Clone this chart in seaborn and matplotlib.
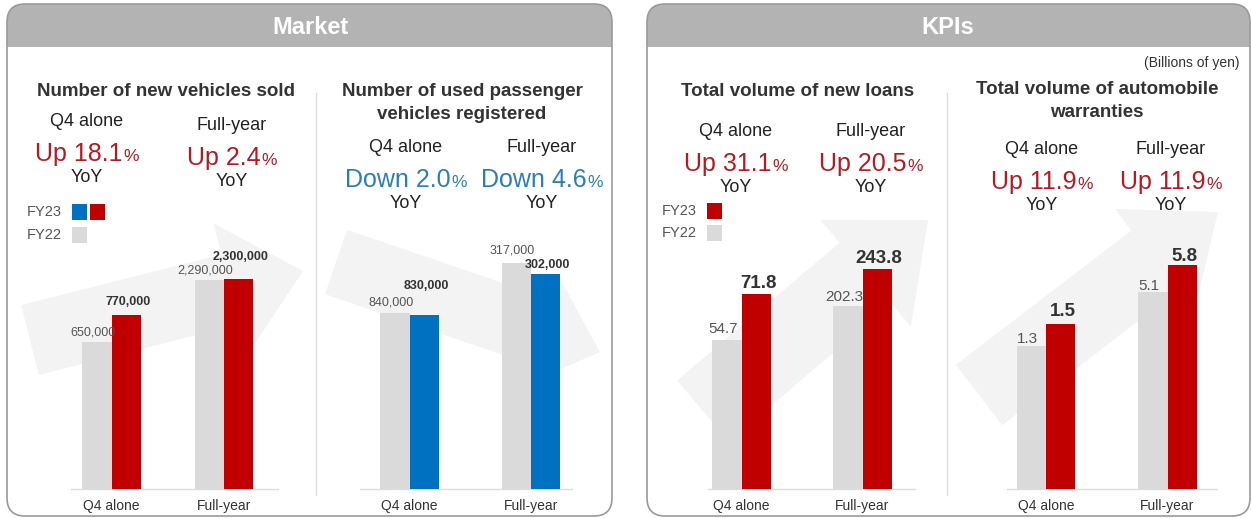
import numpy as np
import pandas as pd
import matplotlib
matplotlib.use("Agg")
import matplotlib.pyplot as plt
from matplotlib.patches import FancyBboxPatch, Rectangle, Polygon
import seaborn as sns

# ---------------------------------------------------------------- data
periods = ["Q4 alone", "Full-year"]
years = ["FY22", "FY23"]

new_vehicles_fy22 = [650000, 2290000]
new_vehicles_fy23 = [770000, 2300000]
new_vehicles_yoy = [18.1, 2.4]

used_vehicles_fy22 = [840000, 317000]
used_vehicles_fy23 = [830000, 302000]
used_vehicles_yoy = [-2.0, -4.6]

new_loans_fy22 = [54.7, 202.3]
new_loans_fy23 = [71.8, 243.8]
new_loans_yoy = [31.1, 20.5]

warranties_fy22 = [1.3, 5.1]
warranties_fy23 = [1.5, 5.8]
warranties_yoy = [11.9, 11.9]

section_titles = ["Market", "KPIs"]
panel_titles = [
    "Number of new vehicles sold",
    "Number of used passenger\nvehicles registered",
    "Total volume of new loans",
    "Total volume of automobile\nwarranties",
]
unit_note = "(Billions of yen)"

# ---------------------------------------------------------------- style
W, H = 1252, 518
GRAY_BAR = "#DADADA"
RED_BAR = "#C00000"
BLUE_BAR = "#0070C0"
RED_TXT = "#B51A22"
BLUE_TXT = "#2C7DBB"
DARK = "#333333"
MID = "#555555"
ARROW = "#F3F3F3"

sns.set_style("white")
plt.rcParams["font.family"] = ["Liberation Sans", "DejaVu Sans"]

fig = plt.figure(figsize=(W / 100, H / 100), dpi=100)
fig.patch.set_facecolor("white")

# pixel-space canvas for frames, headings and decoration
bg = fig.add_axes([0, 0, 1, 1])
bg.set_xlim(0, W)
bg.set_ylim(H, 0)
bg.axis("off")
renderer = fig.canvas.get_renderer()

# ---------------------------------------------------------------- frames
frames = [(7, 4, 605, 512, 310), (647, 4, 603, 512, 948)]
for (x0, y0, fw, fh, tx), name in zip(frames, section_titles):
    style = "round,pad=0,rounding_size=18"
    bg.add_patch(FancyBboxPatch((x0, y0), fw, fh, boxstyle=style,
                                facecolor="white", edgecolor="none", zorder=0))
    head = FancyBboxPatch((x0, y0), fw, fh, boxstyle=style,
                          facecolor="#B3B3B3", edgecolor="none", zorder=1)
    bg.add_patch(head)
    head.set_clip_path(Rectangle((x0 - 2, y0 - 2), fw + 4, 45,
                                 transform=bg.transData))
    bg.add_patch(FancyBboxPatch((x0, y0), fw, fh, boxstyle=style,
                                facecolor="none", edgecolor="#9A9A9A",
                                linewidth=1.2, zorder=5))
    bg.text(tx, 27, name, color="white", fontsize=17, fontweight="bold",
            ha="center", va="center", zorder=6)

for x in (316, 947):
    bg.plot([x, x], [93, 495], color="#DDDDDD", lw=1.0, zorder=2)

bg.text(1240, 63, unit_note, fontsize=10, color=DARK, ha="right", va="center")


def arrow(tail, tip, bw, hw, hl):
    t, p = np.array(tail, float), np.array(tip, float)
    d = (p - t) / np.linalg.norm(p - t)
    n = np.array([d[1], -d[0]])
    b = p - hl * d
    pts = [t + bw * n, b + bw * n, b + hw * n, p, b - hw * n, b - bw * n, t - bw * n]
    bg.add_patch(Polygon(pts, closed=True, facecolor=ARROW, edgecolor="none", zorder=1.5))


def yoy_text(x, yc, value):
    word = "Up" if value >= 0 else "Down"
    color = RED_TXT if value >= 0 else BLUE_TXT
    base = yc + 9
    main = bg.text(0, base, f"{word} {abs(value):.1f}", fontsize=18,
                   color=color, ha="left", va="baseline", zorder=4)
    pct = bg.text(0, base, "%", fontsize=12.5, color=color,
                  ha="left", va="baseline", zorder=4)
    w1 = main.get_window_extent(renderer).width
    w2 = pct.get_window_extent(renderer).width
    x0 = x - (w1 + w2 + 1) / 2
    main.set_x(x0)
    pct.set_x(x0 + w1 + 1)


panels = [
    dict(fy22=new_vehicles_fy22, fy23=new_vehicles_fy23, yoy=new_vehicles_yoy,
         title=panel_titles[0], title_xy=(166, 92), color=RED_BAR,
         fmt="{:,.0f}", ylim=[1.279e6, 3.17e6], centers=[111.5, 224],
         heads=[(87, 122), (232, 126)], base=(71, 278),
         lifts=[(10, 13), (10, 22)], small=True,
         arrow=((30, 340), (303, 271), 36, 68, 75),
         legend=(("FY23", 44, 212, [BLUE_BAR, RED_BAR]), ("FY22", 44, 235, [GRAY_BAR])),
         leg_x=72),
    dict(fy22=used_vehicles_fy22, fy23=used_vehicles_fy23, yoy=used_vehicles_yoy,
         title=panel_titles[1], title_xy=(462, 103), color=BLUE_BAR,
         fmt="{:,.0f}", ylim=[1.379e6, 4.054e5], centers=[409.5, 531],
         heads=[(406, 148), (542, 148)], base=(360, 572),
         lifts=[(10, 29), (13, 9)], small=True,
         arrow=((336, 262), (600, 352), 34, 55, 60), legend=None),
    dict(fy22=new_loans_fy22, fy23=new_loans_fy23, yoy=new_loans_yoy,
         title=panel_titles[2], title_xy=(798, 92), color=RED_BAR,
         fmt="{:.1f}", ylim=[106.4, 320.3], centers=[741.5, 862.5],
         heads=[(736, 132), (871, 132)], base=(708, 915),
         lifts=[(11, 10), (9, 11)], small=False,
         arrow=((703, 411), (928, 220), 40, 70, 82),
         legend=(("FY23", 679, 211, [RED_BAR]), ("FY22", 679, 233, [GRAY_BAR])),
         leg_x=707),
    dict(fy22=warranties_fy22, fy23=warranties_fy23, yoy=warranties_yoy,
         title=panel_titles[3], title_xy=(1097, 101), color=RED_BAR,
         fmt="{:.1f}", ylim=[2.62, 7.483], centers=[1046, 1167.5],
         heads=[(1042, 150), (1171, 150)], base=(1007, 1217),
         lifts=[(7, 12), (6, 8)], small=False,
         arrow=((979, 395), (1218, 212), 38, 65, 80), legend=None),
]

BASE_Y, TOP_Y, AX_W = 489, 200, 73

for p in panels:
    arrow(*p["arrow"])
    bg.plot(p["base"], [BASE_Y, BASE_Y], color="#DDDDDD", lw=1.0, zorder=2)
    bg.text(*p["title_xy"], p["title"], fontsize=13.5, fontweight="bold",
            color=DARK, ha="center", va="center", linespacing=1.45, zorder=4)
    for period, (hx, hy), val in zip(periods, p["heads"], p["yoy"]):
        bg.text(hx, hy, period, fontsize=13, color="#222222",
                ha="center", va="center", zorder=4)
        yoy_text(hx, hy + 30, val)
        bg.text(hx, hy + 55, "YoY", fontsize=13, color="#222222",
                ha="center", va="center", zorder=4)
    if p["legend"]:
        for label, lx, ly, cols in p["legend"]:
            bg.text(lx, ly, label, fontsize=10.5, color=MID,
                    ha="center", va="center", zorder=4)
            for k, c in enumerate(cols):
                bg.add_patch(Rectangle((p["leg_x"] + 18 * k, ly - 8), 15, 16,
                                       facecolor=c, edgecolor="none", zorder=4))

    for i, period in enumerate(periods):
        cx = p["centers"][i]
        ax = fig.add_axes([(cx - AX_W / 2) / W, (H - BASE_Y) / H,
                           AX_W / W, (BASE_Y - TOP_Y) / H])
        ax.set_facecolor("none")
        df = pd.DataFrame({"period": [period, period], "year": years,
                           "value": [p["fy22"][i], p["fy23"][i]]})
        sns.barplot(data=df, x="period", y="value", hue="year", hue_order=years,
                    palette={"FY22": GRAY_BAR, "FY23": p["color"]},
                    saturation=1, width=0.8, linewidth=0, errorbar=None,
                    legend=False, ax=ax)
        ax.set_xlim(-0.5, 0.5)
        ax.set_ylim(0, p["ylim"][i])
        ax.set_xlabel("")
        ax.set_ylabel("")
        ax.set_yticks([])
        ax.tick_params(axis="x", length=0, pad=7, labelsize=10, labelcolor=DARK)
        for s in ax.spines.values():
            s.set_visible(False)

        bars = sorted(ax.patches, key=lambda r: r.get_x())
        for k, (bar, val) in enumerate(zip(bars, df["value"])):
            bold = k == 1
            if p["small"]:
                size = 9
            else:
                size = 13.5 if bold else 11
            dx = 2 if bold else -4
            ax.annotate(p["fmt"].format(val),
                        xy=(bar.get_x() + bar.get_width() / 2, bar.get_height()),
                        xytext=(dx * 0.72, p["lifts"][i][k] * 0.72),
                        textcoords="offset points", ha="center", va="center",
                        fontsize=size, fontweight="bold" if bold else "normal",
                        color=DARK if bold else MID, annotation_clip=False)

fig.savefig("out.png", dpi=100, facecolor="white")
